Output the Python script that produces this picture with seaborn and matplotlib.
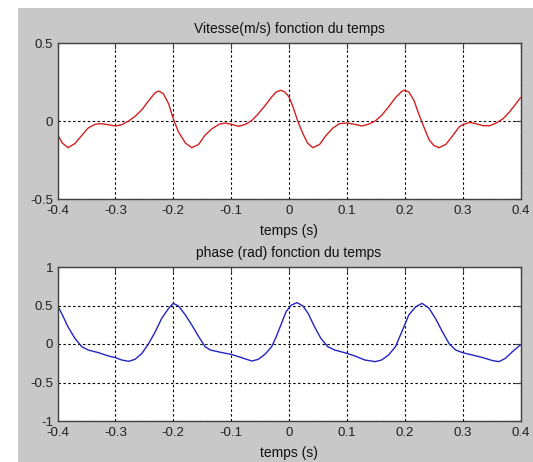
import matplotlib
matplotlib.use("Agg")
import matplotlib.pyplot as plt
from matplotlib.patches import Rectangle
import seaborn as sns
import pandas as pd

# ---- data ----
t_vit = [-0.400, -0.392, -0.382, -0.370, -0.358, -0.347, -0.335, -0.324, -0.312, -0.300,
         -0.289, -0.277, -0.266, -0.254, -0.243, -0.231, -0.225, -0.217, -0.208, -0.200,
         -0.191, -0.179, -0.168, -0.156, -0.145, -0.133, -0.121, -0.110, -0.100, -0.087,
         -0.075, -0.064, -0.053, -0.041, -0.030, -0.022, -0.014, -0.007, 0.000, 0.007,
         0.015, 0.024, 0.032, 0.041, 0.053, 0.064, 0.076, 0.087, 0.100, 0.113,
         0.126, 0.137, 0.149, 0.160, 0.172, 0.184, 0.195, 0.200, 0.207, 0.216,
         0.224, 0.233, 0.242, 0.250, 0.259, 0.271, 0.282, 0.294, 0.300, 0.312,
         0.323, 0.335, 0.347, 0.358, 0.370, 0.381, 0.393, 0.400]
vitesse = [-0.085, -0.140, -0.171, -0.145, -0.092, -0.045, -0.021, -0.017, -0.024, -0.032,
           -0.024, 0.000, 0.030, 0.073, 0.128, 0.182, 0.192, 0.175, 0.110, 0.015,
           -0.070, -0.141, -0.171, -0.150, -0.090, -0.050, -0.021, -0.013, -0.021, -0.034,
           -0.021, 0.004, 0.047, 0.100, 0.154, 0.186, 0.197, 0.186, 0.154, 0.090,
           0.000, -0.081, -0.141, -0.171, -0.150, -0.092, -0.045, -0.017, -0.013, -0.021,
           -0.032, -0.021, 0.000, 0.036, 0.090, 0.150, 0.190, 0.197, 0.186, 0.132,
           0.047, -0.038, -0.120, -0.156, -0.171, -0.150, -0.098, -0.038, -0.024, -0.009,
           -0.017, -0.030, -0.030, -0.013, 0.015, 0.058, 0.115, 0.150]

t_phase = [-0.400, -0.393, -0.382, -0.370, -0.358, -0.347, -0.329, -0.312, -0.300, -0.289,
           -0.277, -0.266, -0.254, -0.243, -0.231, -0.220, -0.208, -0.200, -0.191, -0.179,
           -0.168, -0.156, -0.145, -0.136, -0.115, -0.100, -0.087, -0.075, -0.064, -0.053,
           -0.041, -0.030, -0.022, -0.013, -0.005, 0.004, 0.014, 0.024, 0.033, 0.044,
           0.055, 0.067, 0.079, 0.100, 0.114, 0.131, 0.149, 0.160, 0.172, 0.184,
           0.195, 0.207, 0.219, 0.230, 0.242, 0.253, 0.265, 0.277, 0.288, 0.300,
           0.317, 0.335, 0.352, 0.363, 0.374, 0.386, 0.400]
phase = [0.498, 0.400, 0.225, 0.074, -0.035, -0.078, -0.113, -0.156, -0.177, -0.208,
         -0.225, -0.199, -0.121, 0.000, 0.160, 0.333, 0.463, 0.528, 0.494, 0.377,
         0.247, 0.095, -0.035, -0.078, -0.113, -0.134, -0.165, -0.195, -0.221, -0.199,
         -0.130, -0.035, 0.095, 0.268, 0.420, 0.506, 0.537, 0.494, 0.398, 0.225,
         0.074, -0.035, -0.078, -0.121, -0.156, -0.208, -0.229, -0.208, -0.143, -0.035,
         0.160, 0.377, 0.485, 0.528, 0.463, 0.333, 0.160, 0.000, -0.078, -0.113,
         -0.143, -0.177, -0.216, -0.229, -0.186, -0.100, -0.010]

x_ticks = [-0.4, -0.3, -0.2, -0.1, 0, 0.1, 0.2, 0.3, 0.4]
x_ticklabels = ["-0.4", "-0.3", "-0.2", "-0.1", "0", "0.1", "0.2", "0.3", "0.4"]
y1_ticks = [-0.5, 0, 0.5]
y1_ticklabels = ["-0.5", "0", "0.5"]
y2_ticks = [-1, -0.5, 0, 0.5, 1]
y2_ticklabels = ["-1", "-0.5", "0", "0.5", "1"]

title1 = "Vitesse(m/s) fonction du temps"
title2 = "phase (rad) fonction du temps"
xlabel = "temps (s)"

# ---- style ----
sns.set_style("white")
plt.rcParams["font.family"] = ["Liberation Sans", "DejaVu Sans"]

W, H = 533, 462
fig = plt.figure(figsize=(W / 100, H / 100), dpi=100)
fig.patch.set_facecolor("white")
fig.patches.append(Rectangle((18 / W, 0), 1 - 18 / W, 1 - 8 / H,
                             transform=fig.transFigure, facecolor="#c8c8c8",
                             edgecolor="none", zorder=-10))

left = 57.5 / W
width = (520.5 - 57.5) / W
ax1 = fig.add_axes([left, 1 - 199 / H, width, 156 / H])
ax2 = fig.add_axes([left, 1 - 421 / H, width, 154 / H])

df1 = pd.DataFrame({"t": t_vit, "v": vitesse})
df2 = pd.DataFrame({"t": t_phase, "p": phase})
sns.lineplot(data=df1, x="t", y="v", ax=ax1, color="#d02020", lw=1.0,
             estimator=None, sort=False)
sns.lineplot(data=df2, x="t", y="p", ax=ax2, color="#2424c0", lw=1.0,
             estimator=None, sort=False)

def style(ax, yt, ytl, title):
    ax.set_facecolor("white")
    ax.set_xlim(-0.4, 0.4)
    ax.set_ylim(yt[0], yt[-1])
    ax.set_xticks(x_ticks)
    ax.set_xticklabels(x_ticklabels)
    ax.set_yticks(yt)
    ax.set_yticklabels(ytl)
    ax.tick_params(direction="in", length=4, width=0.8, color="#404040",
                   labelsize=9.5, labelcolor="#202020", top=True, right=True)
    ax.tick_params(axis="x", pad=4.5)
    ax.tick_params(axis="y", pad=3)
    for s in ax.spines.values():
        s.set_visible(True)
        s.set_color("#404040")
        s.set_linewidth(1.0)
    ax.grid(True, color="black", linestyle=(0, (2.2, 2.2)), linewidth=0.8)
    ax.set_axisbelow(True)
    ax.set_title(title, fontsize=10, color="#101010", pad=7.5)
    ax.set_xlabel(xlabel, fontsize=10, color="#101010", labelpad=4.5)
    ax.set_ylabel("")

style(ax1, y1_ticks, y1_ticklabels, title1)
style(ax2, y2_ticks, y2_ticklabels, title2)

fig.savefig("out.png", dpi=100, facecolor=fig.get_facecolor())
